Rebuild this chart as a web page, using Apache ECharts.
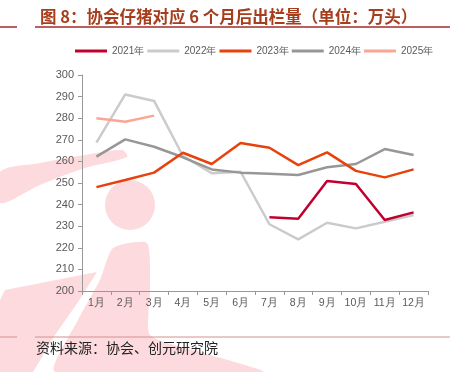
<!DOCTYPE html>
<html><head><meta charset="utf-8">
<script src="https://cdn.jsdelivr.net/npm/echarts@6/dist/echarts.min.js"></script>
<style>html,body{margin:0;padding:0;background:#fff}#c{width:450px;height:372px}</style>
</head><body><div id="c"></div>
<script>
const months = ['1月','2月','3月','4月','5月','6月','7月','8月','9月','10月','11月','12月'];
const s2021 = [null,null,null,null,null,null,234.1,233.5,250.9,249.5,232.9,236.4];
const s2022 = [268.7,291.0,288.0,262.5,254.5,255.2,230.9,223.9,231.6,229.0,232.1,235.2];
const s2023 = [248.1,251.4,254.8,264.0,258.8,268.5,266.3,258.3,264.2,255.6,252.6,256.3];
const s2024 = [262.2,270.2,266.8,261.9,256.3,254.8,254.3,253.7,257.3,258.8,265.7,263.0];
const s2025 = [280.0,278.4,281.2,null,null,null,null,null,null,null,null,null];
const seriesNames = ['2021年','2022年','2023年','2024年','2025年'];
const yTicks = {min:200, max:300, interval:10};

const colors = ['#C2002F','#CBCBCB','#E8420C','#979797','#FBA594'];
const zs = [4,1,5,2,6];
const datas = [s2021,s2022,s2023,s2024,s2025];
const chart = echarts.init(document.getElementById('c'), null, {renderer:'canvas'});
const pink = '#FDDADD';
chart.setOption({
  animation:false,
  backgroundColor:'#fff',
  title:{text:'图 8：协会仔猪对应 6 个月后出栏量（单位：万头）', left:35, top:3,
    textStyle:{fontFamily:'Noto Sans CJK SC', fontSize:16.5, fontWeight:'bold', color:'#A63D1D'}},
  graphic:[
    {type:'circle', z:-10, shape:{cx:130,cy:205,r:25}, style:{fill:pink}},
    {type:'polygon', z:-10, shape:{smooth:0.3, points:[[0,172],[40,163],[85,155],[122,150],[127,157],[85,168],[40,185],[0,203]]}, style:{fill:pink}},
    {type:'polygon', z:-10, shape:{points:[[5,290],[97,272],[78,302],[55,335],[33,372],[0,372],[0,300]]}, style:{fill:pink}},
    {type:'polygon', z:-10, shape:{smooth:0.2, points:[[113,248],[147,243],[150,290],[150,335],[200,352],[263,372],[55,372],[78,320],[100,280]]}, style:{fill:pink}},
    {type:'line', shape:{x1:0,y1:27,x2:17,y2:27}, style:{stroke:'#A52A2A', lineWidth:1.5}},
    {type:'line', shape:{x1:35,y1:27,x2:450,y2:27}, style:{stroke:'#A52A2A', lineWidth:1.5}},
    {type:'line', shape:{x1:0,y1:337,x2:17,y2:337}, style:{stroke:'#D69090', lineWidth:1}},
    {type:'line', shape:{x1:35,y1:337,x2:450,y2:337}, style:{stroke:'#D69090', lineWidth:1}},
    {type:'text', left:36, top:341, style:{text:'资料来源：协会、创元研究院', font:'14px "Noto Sans CJK SC"', fill:'#222'}}
  ],
  legend:{data:seriesNames, left:70, top:41, icon:'rect', itemWidth:32, itemHeight:3, itemGap:3,
    textStyle:{fontSize:10, color:'#595959', fontFamily:'Liberation Sans'}},
  grid:{left:82, right:22, top:75, bottom:81, containLabel:false},
  xAxis:{type:'category', data:months, boundaryGap:true,
    axisLine:{lineStyle:{color:'#999', width:1}},
    axisTick:{show:true, length:4, interval:0, lineStyle:{color:'#999'}},
    axisLabel:{color:'#595959', fontSize:10.5, margin:7, interval:0, fontFamily:'Liberation Sans'}},
  yAxis:{type:'value', min:yTicks.min, max:yTicks.max, interval:yTicks.interval,
    splitLine:{show:false},
    axisLine:{show:true, lineStyle:{color:'#999', width:1}},
    axisTick:{show:true, length:4, lineStyle:{color:'#999'}},
    axisLabel:{color:'#595959', fontSize:11, margin:8, fontFamily:'Liberation Sans'}},
  series: seriesNames.map((n,i)=>({name:n, type:'line', data:datas[i], z:zs[i], symbol:'none',
    lineStyle:{color:colors[i], width:2.5}, itemStyle:{color:colors[i]}, connectNulls:false}))
});
</script></body></html>
